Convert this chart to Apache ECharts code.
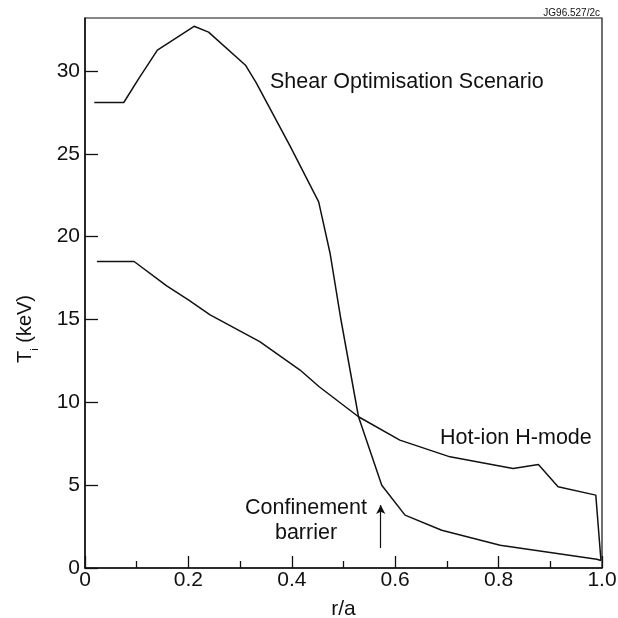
<!DOCTYPE html>
<html>
<head>
<meta charset="utf-8">
<script src="https://cdn.jsdelivr.net/npm/echarts@6/dist/echarts.min.js"></script>
<style>
html,body{margin:0;padding:0;background:#fff;}
#c{width:618px;height:618px;}
</style>
</head>
<body>
<div id="c"></div>
<script>
// Shear Optimisation Scenario
var rShear = [0.018, 0.075, 0.103, 0.14, 0.211, 0.239, 0.311, 0.331, 0.397, 0.452, 0.474, 0.495, 0.529, 0.574, 0.619, 0.69, 0.803, 0.99, 0.998];
var tShear = [28.1, 28.1, 29.5, 31.26, 32.7, 32.35, 30.33, 29.3, 25.45, 22.1, 19.0, 15.0, 9.13, 5.0, 3.19, 2.28, 1.37, 0.53, 0.45];
// Hot-ion H-mode
var rHot = [0.023, 0.095, 0.158, 0.2, 0.242, 0.338, 0.416, 0.453, 0.529, 0.609, 0.706, 0.828, 0.877, 0.915, 0.988, 0.998];
var tHot = [18.5, 18.5, 17.03, 16.18, 15.28, 13.66, 11.95, 10.94, 9.13, 7.72, 6.71, 6.01, 6.25, 4.9, 4.4, 0.45];
// Confinement barrier arrow (r/a, Ti from, Ti to)
var arrowR = 0.572;
var arrowFrom = 1.2;
var arrowTo = 3.8;

function zip(a, b) { return a.map(function (v, i) { return [v, b[i]]; }); }

var FONT = '"Liberation Sans", Arial, Helvetica, sans-serif';
var INK = '#111';

var chart = echarts.init(document.getElementById('c'), null, { renderer: 'canvas' });
chart.setOption({
  backgroundColor: '#fff',
  animation: false,
  grid: { left: 85, right: 16, top: 18, bottom: 50, containLabel: false, outerBoundsMode: 'none', show: true, borderColor: INK, borderWidth: 1.2, backgroundColor: 'transparent' },
  xAxis: {
    type: 'value', min: 0, max: 1, interval: 0.2,
    name: 'r/a', nameLocation: 'middle', nameGap: 31,
    nameTextStyle: { fontFamily: FONT, fontSize: 21, color: INK },
    axisLine: { lineStyle: { color: INK, width: 1.5 } },
    axisTick: { inside: true, length: 12, lineStyle: { color: INK, width: 1.3 } },
    minorTick: { show: true, splitNumber: 2, length: 7, lineStyle: { color: INK, width: 1.3 } },
    splitLine: { show: false },
    axisLabel: {
      margin: 2, fontFamily: FONT, fontSize: 21, color: INK,
      formatter: function (v) { return v === 0 ? '0' : v.toFixed(1); }
    }
  },
  yAxis: {
    type: 'value', min: 0, max: 33.2, interval: 5,
    axisLine: { lineStyle: { color: INK, width: 1.5 } },
    axisTick: { inside: true, length: 13, lineStyle: { color: INK, width: 1.3 } },
    splitLine: { show: false },
    axisLabel: {
      margin: 5, fontFamily: FONT, fontSize: 21, color: INK, showMaxLabel: false,
      formatter: function (v) { return (Math.abs(v % 5) < 1e-9) ? String(v) : ''; }
    }
  },
  series: [
    {
      name: 'Shear Optimisation Scenario', type: 'line', data: zip(rShear, tShear),
      symbol: 'none', lineStyle: { color: INK, width: 1.5 },
      markLine: {
        silent: true, symbol: ['none', 'arrow'], symbolSize: [7, 9],
        label: { show: false },
        lineStyle: { color: INK, width: 1.2, type: 'solid' },
        data: [[{ coord: [arrowR, arrowFrom] }, { coord: [arrowR, arrowTo] }]]
      }
    },
    {
      name: 'Hot-ion H-mode', type: 'line', data: zip(rHot, tHot),
      symbol: 'none', lineStyle: { color: INK, width: 1.5 }
    }
  ],
  graphic: [
    { type: 'text', left: 270, top: 71, style: { text: 'Shear Optimisation Scenario', fontFamily: FONT, fontSize: 21.5, fill: INK } },
    { type: 'text', left: 440, top: 427, style: { text: 'Hot-ion H-mode', fontFamily: FONT, fontSize: 21.5, fill: INK } },
    { type: 'text', x: 306, y: 521, style: { text: 'Confinement\nbarrier', fontFamily: FONT, fontSize: 21.5, lineHeight: 25, fill: INK, align: 'center', verticalAlign: 'middle' } },
    { type: 'text', right: 18, top: 8, style: { text: 'JG96.527/2c', fontFamily: FONT, fontSize: 10, fill: INK } },
    {
      type: 'text', x: 24, y: 329, rotation: Math.PI / 2,
      style: {
        text: '{t|T}{s|i}{t| (keV)}', align: 'center', verticalAlign: 'middle',
        rich: {
          t: { fontFamily: FONT, fontSize: 20, fill: INK, lineHeight: 22, verticalAlign: 'bottom' },
          s: { fontFamily: FONT, fontSize: 11, fill: INK, lineHeight: 22, verticalAlign: 'bottom', padding: [0, 0, -5, 0] }
        }
      }
    }
  ]
});
</script>
</body>
</html>
